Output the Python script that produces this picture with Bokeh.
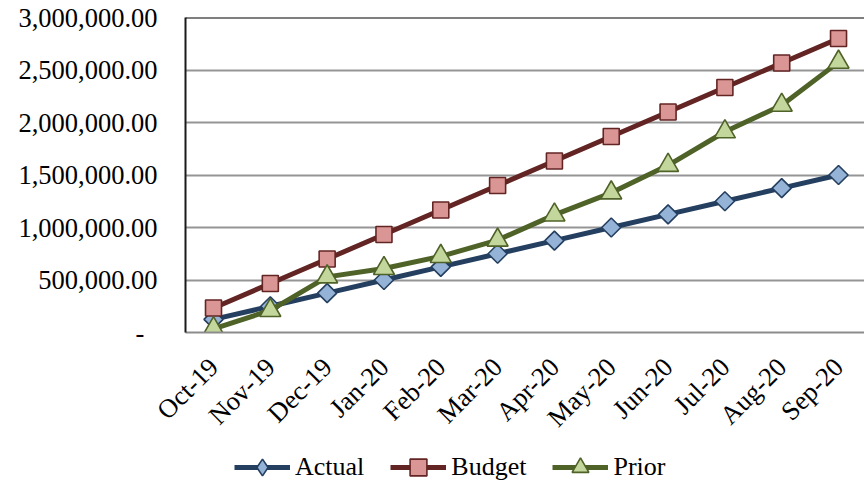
import math
from bokeh.plotting import figure
from bokeh.layouts import column
from bokeh.models import (ColumnDataSource, Range1d, FixedTicker, Legend, LegendItem, Span)
from bokeh.embed import file_html
from bokeh.resources import INLINE

months = ["Oct-19", "Nov-19", "Dec-19", "Jan-20", "Feb-20", "Mar-20",
          "Apr-20", "May-20", "Jun-20", "Jul-20", "Aug-20", "Sep-20"]
actual = [125000, 250000, 375000, 500000, 625000, 750000,
          875000, 1000000, 1125000, 1250000, 1375000, 1500000]
budget = [233333, 466667, 700000, 933333, 1166667, 1400000,
          1633333, 1866667, 2100000, 2333333, 2566667, 2800000]
prior = [35000, 210000, 530000, 610000, 725000, 880000,
         1120000, 1330000, 1592000, 1912000, 2165000, 2575000]
y_ticks = [0, 500000, 1000000, 1500000, 2000000, 2500000, 3000000]

FONT = "Liberation Serif"
idx = list(range(len(months)))
src = ColumnDataSource(dict(x=idx, actual=actual, budget=budget, prior=prior))

p = figure(width=864, height=446, output_backend="svg", toolbar_location=None,
           x_range=Range1d(-0.493, 11.457), y_range=Range1d(0, 3000000),
           min_border_left=185, min_border_right=0, min_border_top=17, min_border_bottom=114)
p.outline_line_color = None
p.background_fill_color = "white"
p.border_fill_color = "white"

# grid
p.xgrid.grid_line_color = None
p.ygrid.grid_line_color = "#959595"
p.ygrid.grid_line_width = 2
p.ygrid.ticker = FixedTicker(ticks=y_ticks)
p.add_layout(Span(location=y_ticks[-1], dimension="width", line_color="black", line_width=2))

# y axis
p.yaxis.ticker = FixedTicker(ticks=y_ticks)
p.yaxis.major_label_overrides = {t: ("-\u00a0\u00a0" if t == 0 else f"{t:,.2f}") for t in y_ticks}
p.yaxis.major_label_text_font = FONT
p.yaxis.major_label_text_font_size = "26.5px"
p.yaxis.major_label_text_color = "black"
p.yaxis.major_label_standoff = 28
p.yaxis.major_tick_out = 0
p.yaxis.major_tick_in = 0
p.yaxis.minor_tick_out = 0
p.yaxis.minor_tick_in = 0
p.yaxis.axis_line_color = "#1a1a1a"
p.yaxis.axis_line_width = 2

# x axis
p.xaxis.ticker = FixedTicker(ticks=idx)
p.xaxis.major_label_overrides = {i: m for i, m in zip(idx, months)}
p.xaxis.major_label_orientation = math.pi / 4
p.xaxis.major_label_text_font = FONT
p.xaxis.major_label_text_font_size = "26.5px"
p.xaxis.major_label_text_color = "black"
p.xaxis.major_label_standoff = 30
p.xaxis.major_tick_out = 0
p.xaxis.major_tick_in = 0
p.xaxis.minor_tick_out = 0
p.xaxis.minor_tick_in = 0
p.xaxis.axis_line_color = "#8c8c8c"
p.xaxis.axis_line_width = 2

# (label, column, line colour, fill colour, plot marker, size, angle, legend marker)
series = [
    ("Actual", "actual", "#243F60", "#95B3D7", "square", 13.5, math.pi / 4, "diamond"),
    ("Budget", "budget", "#632523", "#DA9694", "square", 16, 0, "square"),
    ("Prior", "prior", "#4F6228", "#C3D69B", "triangle", 21, 0, "triangle"),
]

# legend strip: same series drawn on an off-view range, only its legend is seen
pl = figure(width=864, height=38, output_backend="svg", toolbar_location=None,
            x_range=Range1d(-100, -99), y_range=Range1d(0, 3000000),
            x_axis_type=None, y_axis_type=None,
            min_border_left=0, min_border_right=0, min_border_top=0, min_border_bottom=0)
pl.outline_line_color = None
pl.xgrid.grid_line_color = None
pl.ygrid.grid_line_color = None

items = []
for label, col, lc, fc, marker, size, ang, lmarker in series:
    p.line("x", col, source=src, line_color=lc, line_width=5)
    p.scatter("x", col, source=src, marker=marker, size=size, angle=ang,
              fill_color=fc, line_color=lc, line_width=1.6)
    ln = pl.line("x", col, source=src, line_color=lc, line_width=5)
    sc = pl.scatter("x", col, source=src, marker=lmarker, size=size,
                    fill_color=fc, line_color=lc, line_width=1.6)
    items.append(LegendItem(label=label, renderers=[ln, sc]))

legend = Legend(items=items, orientation="horizontal", location=(49, -4),
                label_text_font=FONT, label_text_font_size="26px", label_text_color="black",
                label_standoff=5, glyph_width=56, glyph_height=42, spacing=26,
                padding=0, margin=0, border_line_color=None, background_fill_alpha=0)
pl.add_layout(legend, "center")

open("out.html", "w").write(file_html(column(p, pl), INLINE))
